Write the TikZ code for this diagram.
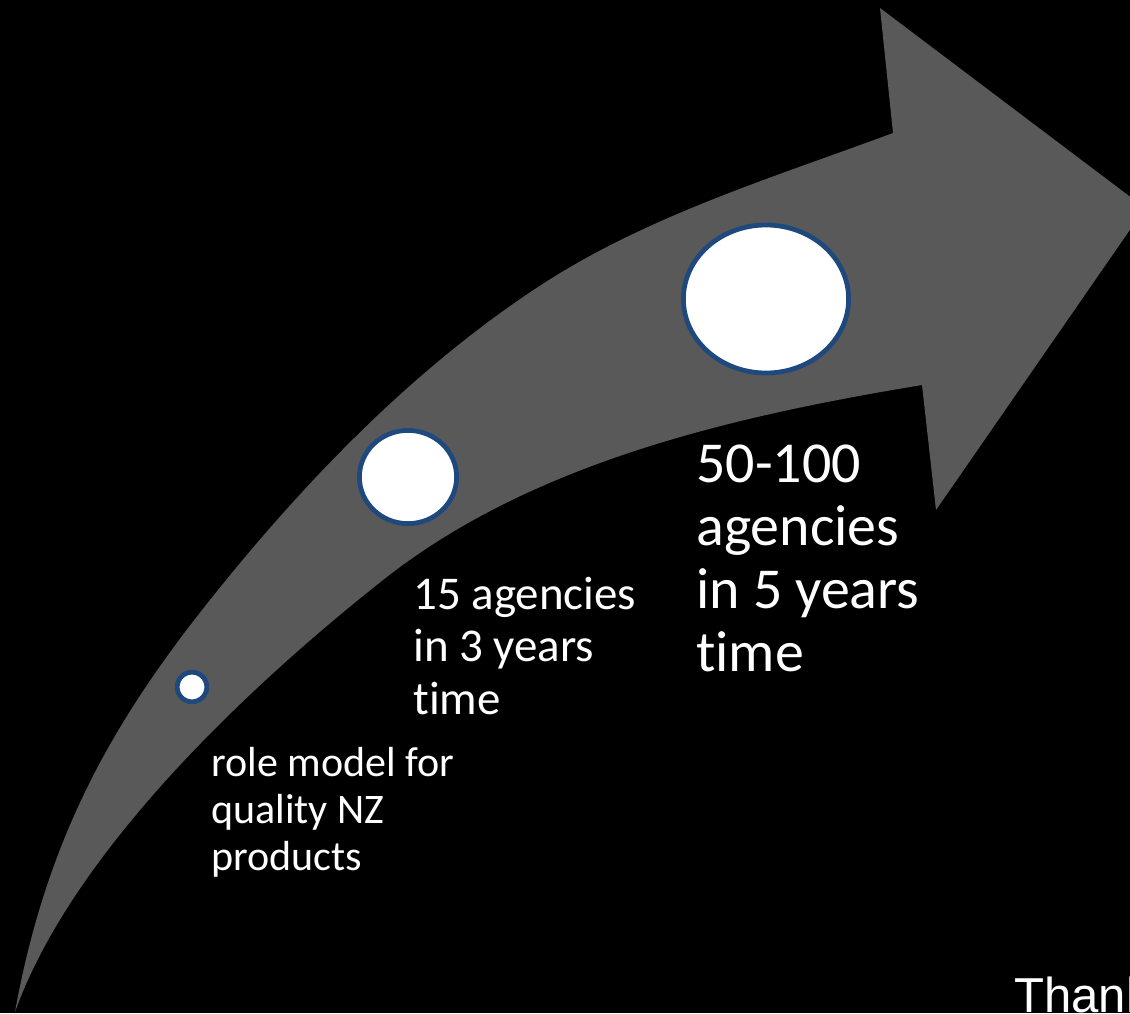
\documentclass[tikz,border=0pt]{standalone}
\usepackage{fontspec}
\setmainfont[Ligatures=NoCommon]{Carlito}
\newfontfamily\arialfont{Liberation Sans}
\usetikzlibrary{shapes.geometric}
\definecolor{arrowgray}{RGB}{89,89,89}
\definecolor{rimblue}{RGB}{31,73,125}
\tikzset{
  milestone/.style={ellipse, draw=rimblue, fill=white, line width=3.4pt, inner sep=0pt},
  lbl/.style={text=white, align=left, anchor=base west, inner sep=0pt},
}
\begin{document}
\begin{tikzpicture}[x=0.025cm, y=-0.025cm]
  \useasboundingbox (0,0) rectangle (1130,1013);
  \fill[black] (0,0) rectangle (1130,1013);
  \clip (0,0) rectangle (1130,1013);

  % the curved arrow: upper edge, head, lower edge back to the tail
  \fill[arrowgray] (15,1012) .. controls (47,835) and (115,719) .. (210,600)
    .. controls (304,482) and (412,370) .. (538,287)
    .. controls (646,216) and (772,178) .. (893,133)
    -- (880,8) -- (1145,208) -- (936,510) -- (922,385)
    .. controls (734.5,416) and (532,462) .. (383,580)
    .. controls (250,685) and (72,852) .. (15,1012) -- cycle;

  % milestones
  \node[milestone, minimum width=0.74cm, minimum height=0.74cm] (m1) at (192,687) {};
  \node[milestone, minimum width=2.43cm, minimum height=2.33cm] (m2) at (408,477) {};
  \node[milestone, minimum width=4.13cm, minimum height=3.70cm] (m3) at (766,299) {};

  % labels (anchored on the last line)
  \node[lbl, font=\fontsize{29.9}{33.2}\selectfont] (t1) at (211,870) {role model for\\quality NZ\\products};
  \node[lbl, font=\fontsize{33.4}{37}\selectfont] (t2) at (413,714) {15 agencies\\in 3 years\\time};
  \node[lbl, font=\fontsize{41.2}{44.6}\selectfont] (t3) at (696,671) {50-100\\agencies\\in 5 years\\time};

  \node[lbl, font=\arialfont\fontsize{34.9}{40}\selectfont] (thanks) at (1014,1012) {Thank};
\end{tikzpicture}
\end{document}
